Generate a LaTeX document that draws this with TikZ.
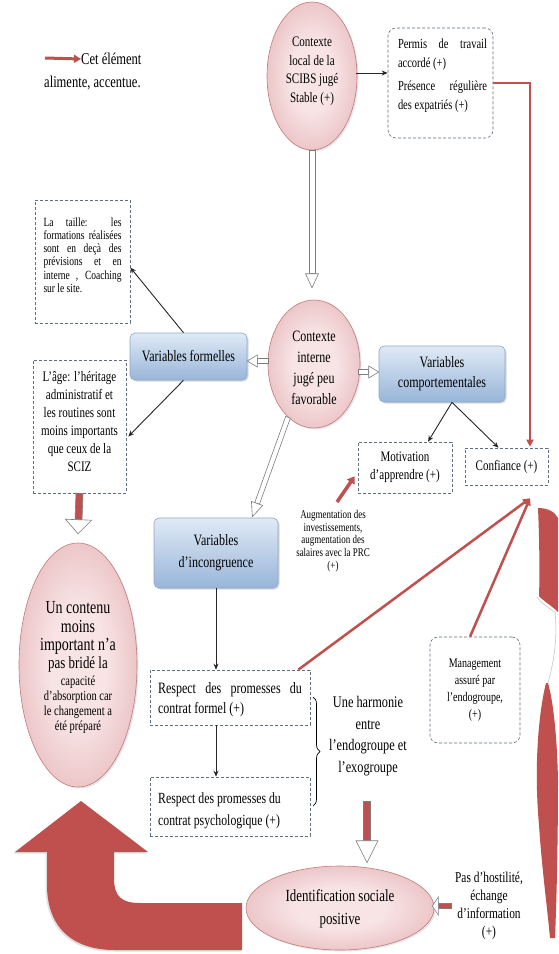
\documentclass[tikz,border=0pt]{standalone}
\usepackage{fontspec}
\setmainfont{Liberation Serif}[FakeStretch=0.76]
\usetikzlibrary{arrows.meta,calc,shapes.geometric,shadows,decorations.pathreplacing}

\definecolor{redA}{RGB}{192,80,77}
\definecolor{pinkIn}{RGB}{248,228,229}
\definecolor{pinkOut}{RGB}{214,142,145}
\definecolor{pinkBd}{RGB}{196,122,125}
\definecolor{blueTop}{RGB}{224,234,246}
\definecolor{blueBot}{RGB}{152,181,216}
\definecolor{blueBd}{RGB}{140,168,205}
\definecolor{dashc}{RGB}{95,110,130}
\definecolor{hgray}{RGB}{125,125,125}

\pgfdeclareradialshading{pinkshade}{\pgfpoint{0bp}{0bp}}{color(0bp)=(pinkIn); color(12bp)=(pinkIn); color(50bp)=(pinkOut)}

\newcommand\jl[2]{\makebox[#1][s]{#2}}
% hollow arrow: from, to, shaft fill, head fill, shaft half width, head half width, head length
\newcommand\harrow[7]{%
  \path[fill=#3,draw=hgray,line width=0.6pt] let \p1=(#1), \p2=(#2),
    \n1={atan2(\y2-\y1,\x2-\x1)}, \n2={veclen(\x2-\x1,\y2-\y1)} in
    [shift={(\p1)},rotate=\n1] (0pt,-#5) -- ({\n2-#7},-#5) -- ({\n2-#7},#5) -- (0pt,#5) -- cycle;
  \path[fill=#4,draw=hgray,line width=0.6pt] let \p1=(#1), \p2=(#2),
    \n1={atan2(\y2-\y1,\x2-\x1)}, \n2={veclen(\x2-\x1,\y2-\y1)} in
    [shift={(\p1)},rotate=\n1] ({\n2-#7},-#6) -- (\n2,0pt) -- ({\n2-#7},#6) -- cycle;
}

\tikzset{
  pinkell/.style={ellipse, draw=pinkBd, line width=0.6pt, shade, shading=pinkshade, inner sep=0pt,
    drop shadow={opacity=0.2,shadow xshift=1.5pt,shadow yshift=-1.5pt}},
  bluebox/.style={rectangle, rounded corners=5pt, draw=blueBd, line width=0.6pt,
    top color=blueTop, bottom color=blueBot, align=center, inner sep=0pt,
    font=\fontsize{15.8}{21}\selectfont,
    drop shadow={opacity=0.3,shadow xshift=1.5pt,shadow yshift=-1.5pt}},
  dbox/.style={rectangle, draw=dashc, line width=0.6pt, dash pattern=on 3pt off 2pt, inner sep=0pt, align=center},
  rdbox/.style={dbox, rounded corners=8pt},
  txt/.style={inner sep=0pt, align=center},
  blk/.style={draw=black!85, line width=0.9pt, -{Stealth[length=6pt,width=5pt]}},
  redln/.style={draw=redA, line width=2pt, -{Triangle[length=7pt,width=7pt]}},
}

\begin{document}
\begin{tikzpicture}[x=1pt,y=-1pt]
\useasboundingbox (0,0) rectangle (558,954);
\fill[white] (0,0) rectangle (558,954);

% ---------- big U arrow (bottom left)
\fill[redA, drop shadow={opacity=0.25,shadow xshift=-1.5pt,shadow yshift=-1.5pt}]
  (15,852) -- (81,801) -- (148,852) -- (114,852) -- (114,878)
  .. controls (114,897) and (122,903) .. (140,903) -- (242,903) -- (242,950) -- (115,950)
  .. controls (70,950) and (47,925) .. (47,885) -- (47,852) -- cycle;

% ---------- right curved shape
\fill[redA] (538,508) .. controls (548,508) and (555,512) .. (558,518) -- (558,612)
  .. controls (552,606) and (542,600) .. (539,596) .. controls (540,570) and (539,530) .. (538,508) -- cycle;
\fill[redA] (546,683) .. controls (538,715) and (534,770) .. (539,825)
  .. controls (542,870) and (547,905) .. (550,938) -- (555,938)
  .. controls (557,890) and (558,830) .. (558,780) .. controls (557,735) and (553,700) .. (548,683) -- cycle;
\draw[gray!45, line width=0.6pt] (537,597) .. controls (543,605) and (549,608) .. (555,612)
  .. controls (558,640) and (553,665) .. (548,683);

% ---------- legend
\node[txt, anchor=west, font=\fontsize{16.5}{15}\selectfont] (legA) at (81,59) {Cet élément};
\node[txt, anchor=west, font=\fontsize{16.5}{15}\selectfont] (legB) at (44,83) {alimente, accentue.};
\coordinate (legT) at (45,58);
\draw[draw=redA, line width=3pt, -{Triangle[length=7pt,width=8pt]}] (legT) -- (legA.west);

% ---------- top ellipse and permit box
\node[pinkell, minimum width=90pt, minimum height=148pt] (E1) at (312,76) {};
\node[txt, font=\fontsize{14.5}{18.5}\selectfont] (E1t) at (312,71) {Contexte\\local de la\\SCIBS jugé\\Stable (+)};
\node[rdbox, minimum width=105pt, minimum height=110pt] (Permis) at (440.5,83) {};
\node[txt, align=left, font=\fontsize{13.8}{19}\selectfont] (Permt) at (442.5,76)
  {\jl{89pt}{Permis de travail}\\accordé (+)\\[4pt]\jl{89pt}{Présence régulière}\\des expatriés (+)};
\draw[blk] ($(E1.east)+(-1,-3)$) -- ($(Permis.west)+(0,-10)$);

% ---------- central ellipse
\node[pinkell, minimum width=92pt, minimum height=128pt] (E2) at (314,364) {};
\node[txt, font=\fontsize{15.8}{21}\selectfont] (E2t) at (314,368) {Contexte\\interne\\jugé peu\\favorable};
\harrow{E1.south}{$(E2.north)+(-2,-12)$}{white}{white}{2.8pt}{6.5pt}{14pt}

% ---------- variables boxes
\node[bluebox, minimum width=117pt, minimum height=47pt] (VF) at (188.5,356.5) {Variables formelles};
\node[bluebox, minimum width=126pt, minimum height=56pt, font=\fontsize{15.8}{20}\selectfont] (VC) at (442,374) {Variables\\comportementales};
\node[bluebox, minimum width=124pt, minimum height=70pt, font=\fontsize{15.8}{22}\selectfont] (VI) at (216,553) {Variables\\d’incongruence};
\harrow{$(E2.west)+(1,-3)$}{$(VF.east)+(0,4.5)$}{white}{white}{2.5pt}{6pt}{10pt}
\harrow{$(E2.east)+(-2,8)$}{$(VC.west)+(0,-2)$}{white}{white}{2.5pt}{6pt}{10pt}
\harrow{E2.244}{$(VI.north east)+(-26,-1)$}{white}{white}{2.5pt}{6pt}{14pt}

% ---------- left boxes
\node[dbox, minimum width=95pt, minimum height=123pt] (Taille) at (82.5,261.5) {};
\node[txt, align=left, font=\fontsize{12.5}{13.3}\selectfont] (Taillet) at (82.5,255)
  {\jl{78pt}{La taille: les}\\\jl{78pt}{formations réalisées}\\\jl{78pt}{sont en deçà des}\\\jl{78pt}{prévisions et en}\\\jl{78pt}{interne , Coaching}\\sur le site.};
\node[dbox, minimum width=93pt, minimum height=133pt] (Age) at (79.5,426.5) {};
\node[txt, font=\fontsize{14.5}{18}\selectfont] (Aget) at (79.5,422)
  {L’âge: l’héritage\\administratif et\\les routines sont\\moins importants\\que ceux de la\\SCIZ};
\draw[blk] ($(VF.north)+(-5,0)$) -- ($(Taille.east)+(0,6)$);
\draw[blk] ($(VF.south)+(-5,0)$) -- ($(Age.east)+(2,10)$);

% ---------- left ellipse
\node[pinkell, minimum width=118pt, minimum height=244pt] (E3) at (78,665) {};
\node[txt, font=\fontsize{13.8}{19}\selectfont] (E3t) at (78,667) {%
  {\fontsize{18.4}{19}\selectfont Un contenu}\\
  {\fontsize{18.4}{19}\selectfont moins}\\[-1pt]
  {\fontsize{18.4}{19}\selectfont important n’a}\\[-1pt]
  {\fontsize{17}{19}\selectfont pas bridé la}\\[-2pt]
  capacité\\[-4pt]d’absorption car\\[-4pt]le changement a\\[-4pt]été préparé};
\harrow{Age.south}{$(E3.north)+(0,-9)$}{redA}{white}{3.5pt}{13pt}{14pt}

% ---------- motivation / confiance
\node[dbox, minimum width=94pt, minimum height=51pt, font=\fontsize{14.5}{18}\selectfont] (Mot) at (405,467.5) {Motivation\\d’apprendre (+)};
\node[dbox, minimum width=83pt, minimum height=37pt, font=\fontsize{14.5}{14}\selectfont] (Conf) at (506.5,466.5) {Confiance (+)};
\draw[blk] ($(VC.south)+(10,0)$) -- ($(Mot.north)+(23,0)$);
\draw[blk] ($(VC.south)+(10,0)$) -- ($(Conf.north)+(-8,0)$);
\draw[redln, line width=1.8pt] (Permis.east) -| ($(Conf.north)+(23.5,-1)$);

\node[txt, font=\fontsize{11.8}{12.6}\selectfont] (Aug) at (333,541)
  {Augmentation des\\investissements,\\augmentation des\\salaires avec la PRC\\(+)};
\coordinate (augT) at (337,502);
\draw[draw=redA, line width=3.5pt, -{Triangle[length=7pt,width=9pt]}] (augT) -- ($(Mot.south west)+(-3,-17)$);

% ---------- management
\node[rdbox, minimum width=90pt, minimum height=106pt, font=\fontsize{13.2}{17}\selectfont] (Mgmt) at (475,690) {Management\\assuré par\\l’endogroupe,\\(+)};

% ---------- contract boxes
\node[dbox, minimum width=160pt, minimum height=55pt] (Formel) at (230,697.5) {};
\node[txt, align=left, font=\fontsize{15.8}{20}\selectfont] (Formelt) at (230,700)
  {\jl{144pt}{Respect des promesses du}\\contrat formel (+)};
\node[dbox, minimum width=160pt, minimum height=59pt] (Psy) at (230,806.5) {};
\node[txt, align=left, anchor=west, font=\fontsize{15.5}{22}\selectfont] (Psyt) at (158,811)
  {Respect des promesses du\\contrat psychologique (+)};
\draw[blk] (VI.south) -- (Formel.north -| VI.south);
\draw[blk] (Formel.south -| VI.south) -- (Psy.north -| VI.south);

\coordinate (cfin) at ($(Conf.south)+(23.5,13)$);
\draw[redln, line width=2.5pt] ($(Formel.north east)+(-12,0)$) -- (cfin);
\draw[redln, line width=2.5pt] ($(Mgmt.north)+(-5,0)$) -- (cfin);

% ---------- brace and harmony
\coordinate (brT) at (313,697);
\coordinate (brB) at (313,806);
\draw[decorate, decoration={brace, amplitude=7pt}, line width=0.7pt] (brT) -- (brB);
\node[txt, font=\fontsize{16.2}{21.5}\selectfont] (Harm) at (368,736) {Une harmonie\\entre\\l’endogroupe et\\l’exogroupe};

% ---------- identification
\node[pinkell, minimum width=188pt, minimum height=84pt] (IS) at (340,908) {};
\node[txt, font=\fontsize{17}{23}\selectfont] (ISt) at (340,909) {Identification sociale\\positive};
\harrow{$(Harm.south)+(-1,25)$}{$(IS.north)+(27,-3)$}{redA}{white}{3.5pt}{11pt}{22pt}

\node[txt, font=\fontsize{15}{18}\selectfont] (Pas) at (489,906) {Pas d’hostilité,\\échange\\d’information\\(+)};
\harrow{$(Pas.west)+(-4,0)$}{$(IS.east)+(-2,-2)$}{redA}{white}{2.5pt}{9pt}{6pt}

\end{tikzpicture}
\end{document}
